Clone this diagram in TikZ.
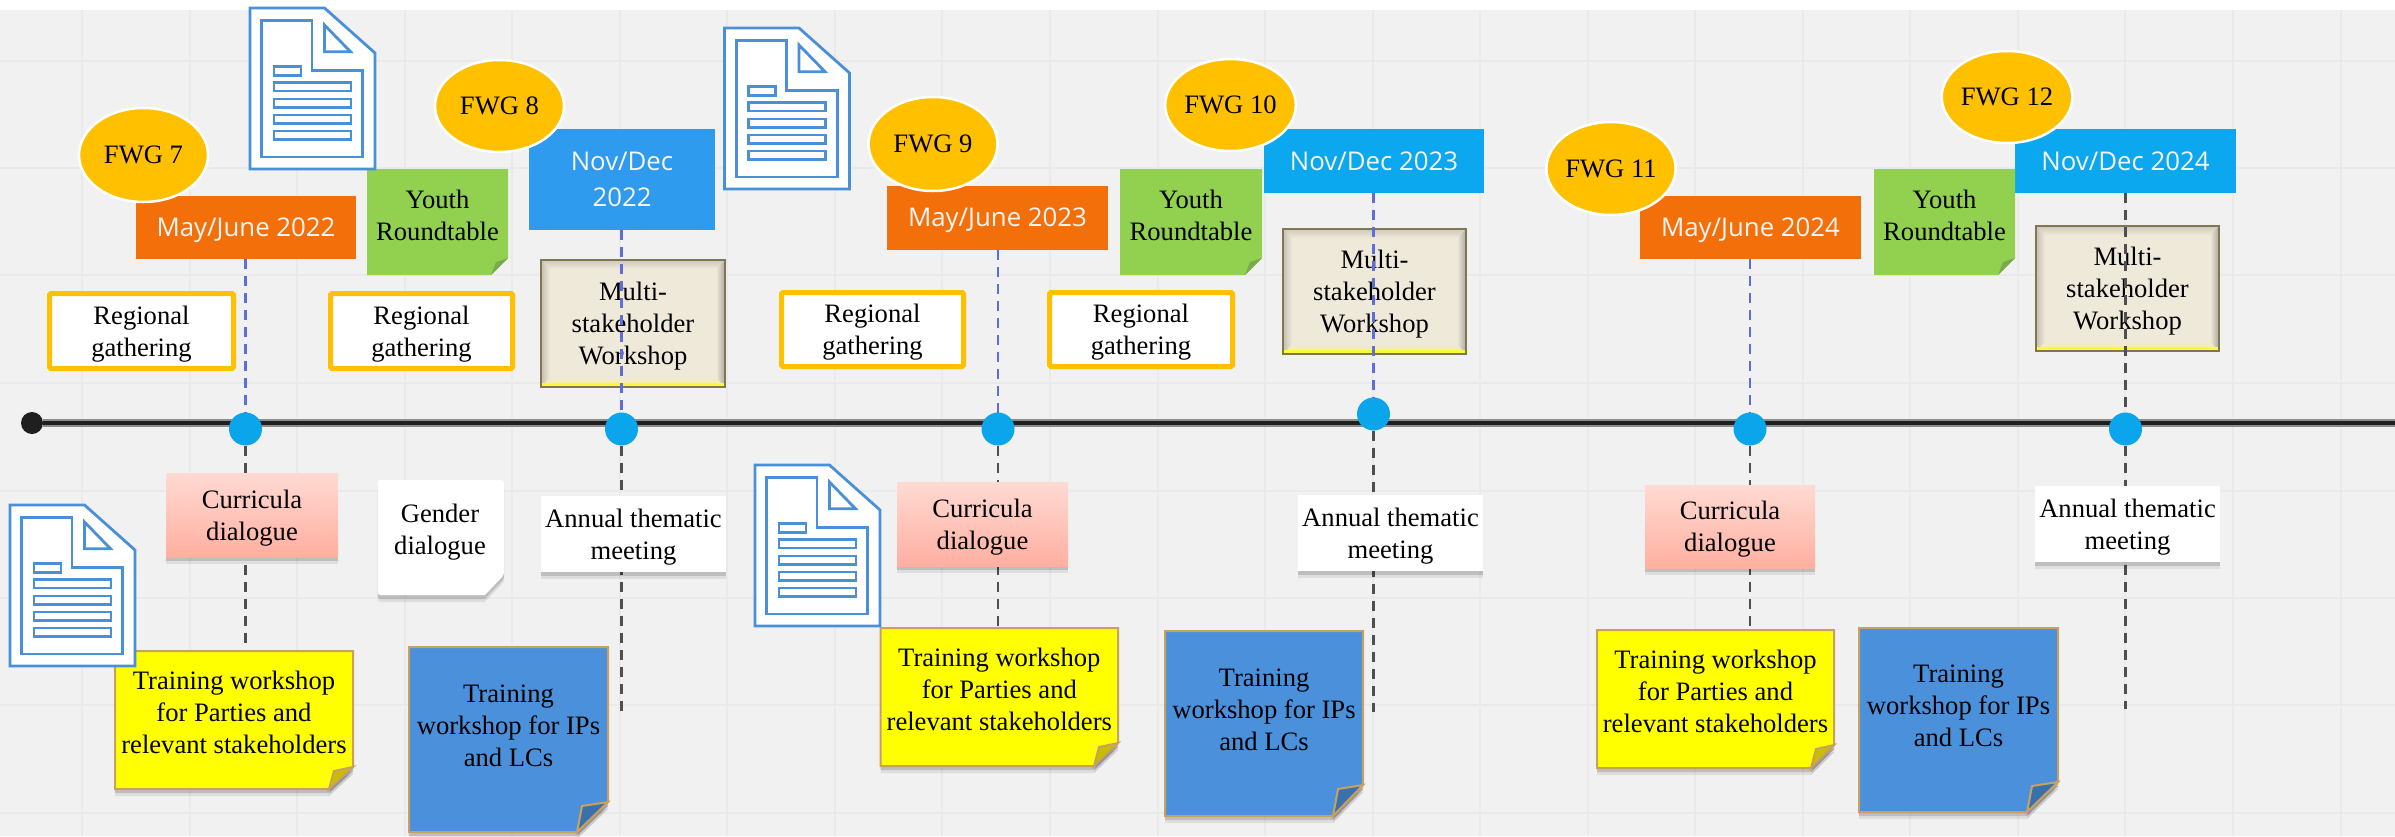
\documentclass[tikz,border=0pt]{standalone}
\usepackage{fontspec}
\setmainfont{Liberation Serif}
\newfontfamily\datefont{Open Sans}
\usetikzlibrary{shadows,shapes.geometric}
\pgfdeclarelayer{under}
\pgfsetlayers{under,main}
\definecolor{gridbg}{HTML}{F1F1F1}
\definecolor{gridln}{HTML}{EAEAEA}
\definecolor{fwg}{HTML}{FFC000}
\definecolor{orangebox}{HTML}{F36F0A}
\definecolor{bluea}{HTML}{2F9BEF}
\definecolor{blueb}{HTML}{0BA8F0}
\definecolor{dot}{HTML}{0BA5EC}
\definecolor{greenn}{HTML}{92D050}
\definecolor{greenf}{HTML}{7BAA4C}
\definecolor{yel}{HTML}{FFFF00}
\definecolor{yelf}{HTML}{C8BE00}
\definecolor{bluen}{HTML}{4A90DB}
\definecolor{bluef}{HTML}{3A70AC}
\definecolor{tan}{HTML}{C8A060}
\definecolor{iconb}{HTML}{4A90D9}
\definecolor{dashb}{HTML}{5B6EDC}
\definecolor{dashk}{HTML}{4F4F4F}
\definecolor{mfill}{HTML}{EFE9D9}
\definecolor{mline}{HTML}{7F7654}
\definecolor{pinktop}{HTML}{FFDAD3}
\definecolor{pinkbot}{HTML}{FFAFA0}
\tikzset{
  x=1pt,y=-1pt,
  lbl/.style={font=\fontsize{26.6}{32}\selectfont,align=center,inner sep=0pt,outer sep=0pt,text=black},
  softshadow/.style={general shadow={fill=black,opacity=.08,shadow yshift=-7pt},general shadow={fill=black,opacity=.14,shadow yshift=-4pt}},
  datetext/.style={font=\datefont\fontsize{25.8}{36}\selectfont,text=white!96!black,align=center,inner sep=0pt,outer sep=0pt},
  fwgnode/.style={ellipse,fill=fwg,draw=white,line width=2.5pt,lbl},
  regbox/.style={fill=white,draw=fwg,line width=5pt,rounded corners=1.5pt},
  plainbox/.style={fill=white,softshadow},
  pinkbox/.style={top color=pinktop,bottom color=pinkbot,softshadow},
  tick/.style={circle,fill=dot,minimum size=33pt,inner sep=0pt,outer sep=0pt},
  dashblue/.style={draw=dashb,line width=2.2pt,dash pattern=on 10pt off 7pt},
  dashdark/.style={draw=dashk,line width=2.2pt,dash pattern=on 10pt off 7pt},
  iconline/.style={draw=iconb,line width=2.8pt,fill=white},
}
% #1 name, #2-#5 x0 y0 x1 y1, #6 shape style
\newcommand\rectnode[6]{%
  \pgfmathsetmacro\cxx{(#2+#4)/2}\pgfmathsetmacro\cyy{(#3+#5)/2}%
  \pgfmathsetmacro\ww{#4-#2}\pgfmathsetmacro\hh{#5-#3}%
  \node[rectangle,minimum width=\ww pt,minimum height=\hh pt,inner sep=0pt,outer sep=0pt,#6] (#1) at (\cxx,\cyy) {};}
% sticky note: #1 name, #2-#5 box, #6 fx, #7 fy, #8 body style, #9 fold colour
\newcommand\stickybody[9]{%
  \path[#8] (#2,#3) -- (#4,#3) -- (#4,#5-#7) -- (#4-#6,#5) -- (#2,#5) -- cycle;
  \path[#8,fill=#9] (#4,#5-#7) -- (#4-#6+5,#5-#7+4) -- (#4-#6,#5) -- cycle;
  \rectnode{#1}{#2}{#3}{#4}{#5}{}}
% multi-stakeholder box
\newcommand\multibox[5]{%
  \fill[mfill] (#2,#3) rectangle (#4,#5);
  \shade[top color=black!14!mfill,bottom color=mfill] (#2,#3) -- (#4,#3) -- (#4-9,#3+9) -- (#2+9,#3+9) -- cycle;
  \shade[left color=black!18!mfill,right color=mfill] (#2,#3) -- (#2+9,#3+9) -- (#2+9,#5-9) -- (#2,#5) -- cycle;
  \shade[left color=mfill,right color=black!28!mfill] (#4,#3) -- (#4-9,#3+9) -- (#4-9,#5-9) -- (#4,#5) -- cycle;
  \shade[top color=mfill,bottom color=yel!50!mfill] (#2,#5) -- (#2+9,#5-9) -- (#4-9,#5-9) -- (#4,#5) -- cycle;
  \fill[yel!72!mfill] (#2+1,#5-4) rectangle (#4-1,#5);
  \rectnode{#1}{#2}{#3}{#4}{#5}{draw=mline,line width=1.8pt}
  \node[lbl] (#1t) at ([yshift=-3pt]#1.center) {Multi-\\stakeholder\\Workshop};}
\newcommand\docicon[2]{%
  \begin{scope}[shift={(#1,#2)}]
    \path[iconline] (0,0) -- (74.5,0) -- (125,45) -- (125,161) -- (0,161) -- cycle;
    \path[iconline] (11.7,12.7) -- (62,12.7) -- (62,62.3) -- (112.8,62.3) -- (112.8,149) -- (11.7,149) -- cycle;
    \path[iconline] (74.5,17) -- (74.5,43.7) -- (100.5,43.7) -- cycle;
    \path[iconline] (24,58.7) rectangle (51,67.3);
    \path[iconline] (24,74.7) rectangle (101,83);
    \path[iconline] (24,91) rectangle (101,99.3);
    \path[iconline] (24,107) rectangle (101,115.3);
    \path[iconline] (24,123) rectangle (101,131.3);
  \end{scope}}
\begin{document}
\begin{tikzpicture}
\useasboundingbox (0,0) rectangle (2395,836);
\begin{pgfonlayer}{under}
  \fill[white] (0,0) rectangle (2395,836);
  \fill[gridbg] (0,10) rectangle (2395,836);
  \foreach \k in {0,...,21} {\draw[gridln,line width=2pt] ({82+107.55*\k},10) -- ({82+107.55*\k},836);}
  \foreach \yy in {61,168,275,383,491,598,705,813} {\draw[gridln,line width=2pt] (0,\yy) -- (2395,\yy);}
\end{pgfonlayer}

% spine and ticks
\node[circle,fill=black!88,minimum size=22pt,inner sep=0pt] (start) at (32,423) {};
\coordinate (spineend) at (2395,423);
\draw[black!45,line width=8pt] (start) -- (spineend);
\draw[black!88,line width=4.5pt] (start) -- (spineend);
\node[tick] (c1) at (245.5,429) {};
\node[tick] (c2) at (621.5,429) {};
\node[tick] (c3) at (998,429) {};
\node[tick] (c4) at (1373.5,414) {};
\node[tick] (c5) at (1750,429) {};
\node[tick] (c6) at (2125.5,429) {};

% dates
\rectnode{d1}{136}{196}{356}{259}{fill=orangebox}
\node[datetext] (d1t) at ([yshift=-3pt]d1.center) {May/June 2022};
\rectnode{d2}{529}{129}{715}{230}{fill=bluea}
\node[datetext] (d2t) at (d2.center) {Nov/Dec\\2022};
\rectnode{d3}{887}{186}{1108}{250}{fill=orangebox}
\node[datetext] (d3t) at ([yshift=-2pt]d3.center) {May/June 2023};
\rectnode{d4}{1264}{129}{1484}{193}{fill=blueb}
\node[datetext] (d4t) at (d4.center) {Nov/Dec 2023};
\rectnode{d5}{1640}{196}{1861}{259}{fill=orangebox}
\node[datetext] (d5t) at ([yshift=-3pt]d5.center) {May/June 2024};
\rectnode{d6}{2015}{129}{2236}{193}{fill=blueb}
\node[datetext] (d6t) at (d6.center) {Nov/Dec 2024};

% FWG
\node[fwgnode,minimum width=129pt,minimum height=94pt] (f7) at (143.5,155) {FWG 7};
\node[fwgnode,minimum width=129pt,minimum height=92pt] (f8) at (499.5,106) {FWG 8};
\node[fwgnode,minimum width=129pt,minimum height=94pt] (f9) at (933,144) {FWG 9};
\node[fwgnode,minimum width=129pt,minimum height=92pt] (f10) at (1230.5,105) {FWG 10};
\node[fwgnode,minimum width=129pt,minimum height=93pt] (f11) at (1611,168.5) {FWG 11};
\node[fwgnode,minimum width=129pt,minimum height=92pt] (f12) at (2007,97) {FWG 12};

% regional
\rectnode{r1}{49.5}{293.5}{233.5}{368.5}{regbox}
\node[lbl] (r1t) at ([yshift=-3pt]r1.center) {Regional\\gathering};
\rectnode{r2}{330.5}{293.5}{512.5}{368.5}{regbox}
\node[lbl] (r2t) at ([yshift=-3pt]r2.center) {Regional\\gathering};
\rectnode{r3}{781.5}{292.5}{963.5}{366.5}{regbox}
\node[lbl] (r3t) at ([yshift=-3pt]r3.center) {Regional\\gathering};
\rectnode{r4}{1049.5}{292.5}{1232.5}{366.5}{regbox}
\node[lbl] (r4t) at ([yshift=-3pt]r4.center) {Regional\\gathering};

% youth
\stickybody{y1}{367}{169}{508}{275}{17}{17}{fill=greenn}{greenf}
\node[lbl] (y1t) at ([yshift=6.5pt]y1.center) {Youth\\Roundtable};
\stickybody{y2}{1120}{169}{1262}{275}{17}{17}{fill=greenn}{greenf}
\node[lbl] (y2t) at ([yshift=6.5pt]y2.center) {Youth\\Roundtable};
\stickybody{y3}{1874}{169}{2015}{275}{17}{17}{fill=greenn}{greenf}
\node[lbl] (y3t) at ([yshift=6.5pt]y3.center) {Youth\\Roundtable};

% multi
\multibox{m1}{541}{260}{725}{387}
\multibox{m2}{1283}{229}{1466}{354}
\multibox{m3}{2036}{226}{2219}{351}

% curricula
\rectnode{p1}{166}{473}{338}{557}{pinkbox}
\node[lbl] (p1t) at ([yshift=-3pt]p1.center) {Curricula\\dialogue};
\rectnode{p2}{897}{482}{1068}{566}{pinkbox}
\node[lbl] (p2t) at ([yshift=-3pt]p2.center) {Curricula\\dialogue};
\rectnode{p3}{1645}{485}{1815}{568}{pinkbox}
\node[lbl] (p3t) at ([yshift=-3pt]p3.center) {Curricula\\dialogue};

% annual
\rectnode{a1}{541}{496}{726}{572}{plainbox}
\node[lbl] (a1t) at ([yshift=-3pt]a1.center) {Annual thematic\\meeting};
\rectnode{a2}{1298}{495}{1483}{571}{plainbox}
\node[lbl] (a2t) at ([yshift=-3pt]a2.center) {Annual thematic\\meeting};
\rectnode{a3}{2035}{486}{2220}{562}{plainbox}
\node[lbl] (a3t) at ([yshift=-3pt]a3.center) {Annual thematic\\meeting};

% gender
\path[fill=white,rounded corners=3pt,softshadow] (377.5,480) -- (504,480) -- (504,575) [sharp corners] -- (485,595) [rounded corners=3pt] -- (377.5,595) -- cycle;
\node[lbl] (g1) at (440,532) {Gender\\dialogue};

% yellow notes
\stickybody{t1}{115}{651}{353}{789}{24}{22}{fill=yel,draw=tan,line width=2pt,softshadow}{yelf}
\node[lbl] (t1t) at ([yshift=8pt]t1.center) {Training workshop\\for Parties and\\relevant stakeholders};
\stickybody{t2}{880.6}{628}{1118}{766}{24}{23}{fill=yel,draw=tan,line width=2pt,softshadow}{yelf}
\node[lbl] (t2t) at ([yshift=8pt]t2.center) {Training workshop\\for Parties and\\relevant stakeholders};
\stickybody{t3}{1597}{630}{1834}{768}{23}{23}{fill=yel,draw=tan,line width=2pt,softshadow}{yelf}
\node[lbl] (t3t) at ([yshift=8pt]t3.center) {Training workshop\\for Parties and\\relevant stakeholders};

% blue notes
\stickybody{b1}{409}{647}{608}{832}{31}{30}{fill=bluen,draw=tan,line width=2pt,softshadow}{bluef}
\node[lbl] (b1t) at ([yshift=14pt]b1.center) {Training\\workshop for IPs\\and LCs};
\stickybody{b2}{1165}{631}{1363}{816}{30}{31}{fill=bluen,draw=tan,line width=2pt,softshadow}{bluef}
\node[lbl] (b2t) at ([yshift=14pt]b2.center) {Training\\workshop for IPs\\and LCs};
\stickybody{b3}{1859}{628}{2058}{812}{31}{30}{fill=bluen,draw=tan,line width=2pt,softshadow}{bluef}
\node[lbl] (b3t) at ([yshift=14pt]b3.center) {Training\\workshop for IPs\\and LCs};

% documents
\docicon{250}{8}
\docicon{724.5}{28}
\docicon{10}{505}
\docicon{755}{465}

% connectors above the spine
\draw[dashblue] (d1.south -| c1) -- (c1.north);
\draw[dashblue] (d2.south -| c2) -- (c2.north);
\draw[dashblue] (d3.south -| c3) -- (c3.north);
\draw[dashblue] (d4.south -| c4) -- (c4.north);
\draw[dashblue] (d5.south -| c5) -- (c5.north);
\draw[dashdark] (d6.south -| c6) -- (c6.north);

% connectors below the spine, behind the boxes
\coordinate (e2) at (621.5,712);
\coordinate (e4) at (1373.5,712);
\coordinate (e6) at (2125.5,709);
\begin{pgfonlayer}{under}
  \draw[dashdark] (c1.south) -- (t1.north -| c1);
  \draw[dashdark] (c2.south) -- (e2);
  \draw[dashdark] (c3.south) -- (t2.north -| c3);
  \draw[dashdark] (c4.south) -- (e4);
  \draw[dashdark] (c5.south) -- (t3.north -| c5);
  \draw[dashdark] (c6.south) -- (e6);
\end{pgfonlayer}
\end{tikzpicture}
\end{document}
